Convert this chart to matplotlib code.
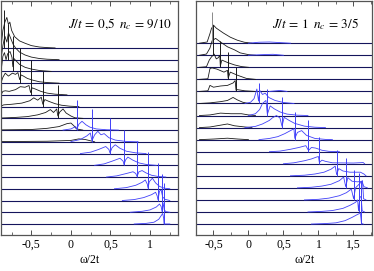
import numpy as np
import matplotlib.pyplot as plt

plt.rcParams['font.family'] = 'serif'
plt.rcParams['font.serif'] = ['Liberation Serif', 'DejaVu Serif']
plt.rcParams['mathtext.fontset'] = 'stix'

# ---- left panel: J/t = 0,5, n_c = 9/10 (curve k=0 on top) ----
left_spike_pos = [-0.848, -0.80, -0.734, -0.646, -0.506, -0.354, -0.165, 0.076,
                  0.266, 0.494, 0.671, 0.835, 0.975, 1.101, 1.152, 1.177]
left_spike_h = [3.2, 3.0, 3.0, 3.0, 3.0, 3.0, 2.8, 2.6,
                2.8, 3.0, 3.0, 3.1, 3.1, 3.2, 3.3, 3.5]

left_black = [
    [(-0.88, 0.3), (-0.86, 1.5), (-0.835, 2.2), (-0.81, 2.6), (-0.79, 2.0), (-0.772, 2.2), (-0.75, 1.5),
     (-0.71, 0.95), (-0.65, 0.6), (-0.58, 0.4), (-0.5, 0.2), (-0.4, 0.08), (-0.3, 0.03), (-0.2, 0.0)],
    [(-0.88, 0.2), (-0.86, 1.2), (-0.835, 2.0), (-0.81, 1.5), (-0.79, 2.3), (-0.76, 1.8), (-0.73, 1.3),
     (-0.70, 1.0), (-0.65, 0.65), (-0.58, 0.4), (-0.5, 0.22), (-0.4, 0.1), (-0.3, 0.04), (-0.15, 0.0)],
    [(-0.88, 0.2), (-0.86, 1.3), (-0.84, 1.6), (-0.82, 1.0), (-0.80, 1.5), (-0.77, 1.7), (-0.745, 1.2),
     (-0.734, 0.4), (-0.72, 1.1), (-0.70, 0.95), (-0.65, 0.6), (-0.58, 0.35), (-0.5, 0.2), (-0.4, 0.08),
     (-0.25, 0.0)],
    [(-0.88, 0.1), (-0.86, 0.5), (-0.83, 0.85), (-0.79, 0.6), (-0.74, 0.85), (-0.70, 0.75), (-0.67, 0.9),
     (-0.648, 0.3), (-0.63, 0.7), (-0.60, 0.6), (-0.55, 0.4), (-0.48, 0.25), (-0.40, 0.12), (-0.3, 0.05),
     (-0.15, 0.0)],
    [(-0.88, 0.05), (-0.86, 0.3), (-0.83, 0.35), (-0.78, 0.3), (-0.70, 0.45), (-0.64, 0.7), (-0.58, 0.65),
     (-0.53, 0.8), (-0.51, 0.2), (-0.49, 0.6), (-0.45, 0.5), (-0.38, 0.3), (-0.30, 0.15), (-0.2, 0.06),
     (-0.05, 0.0)],
    [(-0.88, 0.05), (-0.85, 0.15), (-0.75, 0.2), (-0.62, 0.3), (-0.52, 0.5), (-0.47, 0.75), (-0.42, 0.55),
     (-0.375, 0.8), (-0.355, 0.2), (-0.33, 0.6), (-0.28, 0.45), (-0.20, 0.25), (-0.12, 0.12), (-0.02, 0.04),
     (0.1, 0.0)],
    [(-0.88, 0.03), (-0.7, 0.08), (-0.55, 0.15), (-0.42, 0.3), (-0.32, 0.5), (-0.26, 0.75), (-0.22, 0.5),
     (-0.18, 0.8), (-0.165, 0.2), (-0.14, 0.55), (-0.10, 0.8), (-0.06, 0.45), (0.0, 0.2), (0.05, 0.05),
     (0.15, 0.0)],
    [(-0.88, 0.02), (-0.5, 0.05), (-0.3, 0.15), (-0.15, 0.3), (-0.05, 0.55), (0.0, 0.6), (0.04, 0.35),
     (0.07, 0.1), (0.15, 0.0)],
    [(-0.88, 0.02), (-0.3, 0.05), (0.0, 0.12), (0.1, 0.25), (0.18, 0.2), (0.3, 0.0)],
    [], [], [], [], [], [], [],
]

left_blue = [
    [], [], [], [], [], [], [],
    [(-0.1, 0.0), (0.0, 0.1), (0.06, 0.3), (0.076, 0.1), (0.10, 0.5), (0.14, 0.75), (0.19, 0.45),
     (0.24, 0.25), (0.32, 0.1), (0.45, 0.03), (0.6, 0.0)],
    [(0.0, 0.02), (0.12, 0.2), (0.2, 0.5), (0.245, 0.75), (0.266, 0.1), (0.30, 0.6), (0.34, 0.9),
     (0.38, 0.6), (0.42, 0.7), (0.48, 0.35), (0.56, 0.15), (0.7, 0.03), (0.85, 0.0)],
    [(0.12, 0.0), (0.25, 0.12), (0.35, 0.35), (0.44, 0.6), (0.48, 0.35), (0.494, 0.05), (0.52, 0.5),
     (0.56, 0.75), (0.62, 0.45), (0.70, 0.2), (0.82, 0.06), (0.95, 0.0)],
    [(0.3, 0.0), (0.42, 0.12), (0.52, 0.35), (0.62, 0.6), (0.66, 0.35), (0.671, 0.05), (0.69, 0.45),
     (0.72, 0.7), (0.78, 0.45), (0.86, 0.2), (0.96, 0.06), (1.08, 0.0)],
    [(0.45, 0.0), (0.58, 0.1), (0.70, 0.3), (0.785, 0.45), (0.82, 0.3), (0.835, 0.05), (0.86, 0.45),
     (0.90, 0.55), (0.95, 0.35), (1.02, 0.15), (1.1, 0.05), (1.2, 0.0)],
    [(0.55, 0.0), (0.70, 0.1), (0.82, 0.3), (0.90, 0.55), (0.94, 0.75), (0.965, 0.4), (0.975, 0.05),
     (0.99, 0.6), (1.03, 0.9), (1.07, 0.5), (1.12, 0.2), (1.18, 0.05), (1.25, 0.0)],
    [(0.65, 0.0), (0.80, 0.08), (0.92, 0.25), (1.02, 0.5), (1.07, 0.7), (1.09, 0.4), (1.101, 0.05),
     (1.12, 0.8), (1.14, 0.9), (1.16, 0.3), (1.19, 0.1), (1.25, 0.0)],
    [(0.75, 0.0), (0.90, 0.08), (1.0, 0.2), (1.08, 0.45), (1.12, 0.7), (1.14, 0.5), (1.152, 0.05),
     (1.165, 0.8), (1.18, 0.2), (1.2, 0.05), (1.25, 0.0)],
    [(0.8, 0.0), (0.95, 0.05), (1.05, 0.15), (1.11, 0.4), (1.145, 0.75), (1.16, 0.9), (1.172, 0.5),
     (1.177, 0.0), (1.25, 0.0)],
]

# ---- right panel: J/t = 1, n_c = 3/5 ----
right_spike_pos = [-0.528, -0.50, -0.402, -0.29, -0.178, 0.144, 0.27, 0.48,
                   0.662, 0.858, 1.013, 1.26, 1.39, 1.503, 1.573, 1.615]
right_spike_h = [2.6, 2.5, 2.2, 2.25, 2.0, 1.7, 2.2, 2.5,
                 2.3, 2.6, 2.2, 2.1, 2.5, 2.5, 3.2, 3.6]

right_black = [
    [(-0.70, 0.0), (-0.59, 0.1), (-0.55, 0.8), (-0.53, 1.2), (-0.50, 1.5), (-0.46, 1.25), (-0.36, 0.85),
     (-0.26, 0.5), (-0.16, 0.25), (-0.06, 0.08), (0.05, 0.0)],
    [(-0.70, 0.0), (-0.60, 0.1), (-0.55, 0.6), (-0.52, 1.2), (-0.47, 1.4), (-0.40, 1.1), (-0.30, 0.7),
     (-0.20, 0.45), (-0.12, 0.2), (0.0, 0.05), (0.1, 0.0)],
    [(-0.70, 0.0), (-0.60, 0.05), (-0.56, 0.6), (-0.53, 0.85), (-0.49, 1.1), (-0.46, 0.7), (-0.43, 0.8),
     (-0.41, 1.0), (-0.402, 0.1), (-0.38, 0.6), (-0.30, 0.4), (-0.2, 0.2), (-0.1, 0.06), (0.0, 0.0)],
    [(-0.70, 0.0), (-0.58, 0.05), (-0.55, 0.9), (-0.52, 0.95), (-0.45, 0.85), (-0.35, 0.6), (-0.30, 0.75),
     (-0.29, 0.1), (-0.26, 0.6), (-0.16, 0.35), (-0.03, 0.08), (0.1, 0.0)],
    [(-0.70, 0.0), (-0.58, 0.05), (-0.55, 0.5), (-0.50, 0.35), (-0.40, 0.45), (-0.30, 0.5), (-0.22, 0.7),
     (-0.19, 0.9), (-0.178, 0.1), (-0.16, 0.15), (-0.05, 0.05), (0.1, 0.0)],
    [(-0.70, 0.0), (-0.55, 0.05), (-0.40, 0.15), (-0.30, 0.25), (-0.22, 0.5), (-0.16, 0.3), (-0.08, 0.1),
     (0.0, 0.0)],
    [(-0.70, 0.0), (-0.55, 0.05), (-0.40, 0.2), (-0.25, 0.15), (-0.10, 0.15), (0.0, 0.05), (0.1, 0.0)],
    [(-0.70, 0.0), (-0.55, 0.05), (-0.40, 0.2), (-0.30, 0.3), (-0.20, 0.15), (-0.05, 0.05), (0.05, 0.0)],
    [(-0.70, 0.0), (-0.5, 0.05), (-0.3, 0.12), (-0.15, 0.05), (0.0, 0.0)],
    [], [], [], [], [], [], [],
]

right_blue = [
    [(0.0, 0.0), (0.15, 0.08), (0.3, 0.1), (0.45, 0.05), (0.6, 0.0)],
    [(0.0, 0.0), (0.2, 0.05), (0.35, 0.08), (0.5, 0.0)],
    [], [],
    [(0.3, 0.0), (0.45, 0.08), (0.55, 0.0)],
    [(-0.05, 0.0), (0.03, 0.1), (0.08, 0.4), (0.12, 1.2), (0.144, 0.2), (0.16, 1.1), (0.20, 0.75),
     (0.24, 0.85), (0.29, 0.5), (0.38, 0.25), (0.5, 0.08), (0.65, 0.0)],
    [(0.0, 0.0), (0.10, 0.15), (0.16, 0.5), (0.20, 1.0), (0.25, 1.25), (0.27, 0.1), (0.31, 0.8),
     (0.37, 0.55), (0.45, 0.3), (0.55, 0.12), (0.7, 0.03), (0.85, 0.0)],
    [(-0.05, 0.0), (0.10, 0.1), (0.20, 0.3), (0.30, 0.6), (0.34, 0.8), (0.40, 1.0), (0.45, 0.8),
     (0.48, 0.1), (0.51, 0.85), (0.58, 0.6), (0.66, 0.35), (0.80, 0.12), (0.95, 0.03), (1.1, 0.0)],
    [(0.15, 0.0), (0.30, 0.1), (0.42, 0.25), (0.52, 0.5), (0.60, 0.75), (0.65, 0.9), (0.662, 0.1),
     (0.70, 0.6), (0.76, 0.75), (0.83, 0.35), (0.95, 0.1), (1.1, 0.02), (1.2, 0.0)],
    [(0.3, 0.0), (0.45, 0.05), (0.6, 0.2), (0.72, 0.35), (0.82, 0.5), (0.858, 0.1), (0.90, 0.35),
     (0.96, 0.3), (1.05, 0.12), (1.15, 0.03), (1.3, 0.0)],
    [(0.5, 0.0), (0.65, 0.08), (0.80, 0.25), (0.90, 0.4), (0.97, 0.55), (1.00, 0.6), (1.013, 0.1),
     (1.05, 0.3), (1.10, 0.2), (1.2, 0.08), (1.5, 0.06), (1.64, 0.1), (1.66, 0.0)],
    [(0.6, 0.0), (0.8, 0.05), (0.95, 0.15), (1.08, 0.3), (1.18, 0.55), (1.24, 0.8), (1.26, 0.1),
     (1.29, 0.6), (1.35, 0.4), (1.45, 0.3), (1.6, 0.3), (1.65, 0.15), (1.68, 0.0)],
    [(0.7, 0.0), (0.9, 0.05), (1.05, 0.15), (1.18, 0.3), (1.30, 0.6), (1.36, 0.9), (1.39, 0.1),
     (1.42, 0.85), (1.48, 0.55), (1.56, 0.5), (1.62, 0.55), (1.65, 0.1), (1.7, 0.0)],
    [(0.8, 0.0), (1.0, 0.05), (1.15, 0.15), (1.30, 0.35), (1.40, 0.6), (1.47, 0.9), (1.503, 0.1),
     (1.53, 1.0), (1.58, 1.3), (1.63, 1.6), (1.645, 0.1), (1.68, 0.0)],
    [(0.85, 0.0), (1.05, 0.05), (1.2, 0.12), (1.35, 0.3), (1.45, 0.55), (1.53, 0.8), (1.56, 1.0),
     (1.573, 0.1), (1.59, 1.2), (1.61, 1.3), (1.625, 0.1), (1.66, 0.0)],
    [(0.9, 0.0), (1.1, 0.04), (1.25, 0.1), (1.38, 0.28), (1.48, 0.55), (1.56, 0.8), (1.60, 0.9),
     (1.615, 0.05), (1.64, 0.0)],
]

left_ticks = [-0.5, 0, 0.5, 1]
left_ticklabels = ['-0,5', '0', '0,5', '1']
right_ticks = [-0.5, 0, 0.5, 1, 1.5]
right_ticklabels = ['-0,5', '0', '0,5', '1', '1,5']
left_title = r'$J/t\,=\,0{,}5\;\;n_c\,=\,9/10$'
right_title = r'$J/t\,=\,1\;\;n_c\,=\,3/5$'

BLUE = '#4040f8'
BLACK = '#1a1a1a'
NAVY = '#15155c'

fig = plt.figure(figsize=(3.74, 2.71), dpi=100)
axL = fig.add_axes([0.0035, 0.1328, 0.4717, 0.8635])
axR = fig.add_axes([0.524, 0.1328, 0.4715, 0.8635])


def draw_panel(ax, spos, sh, blacks, blues, n_black_spikes, first_gray):
    n = len(spos)
    for k in range(n):
        off = n - 1 - k
        ax.axhline(off, color=NAVY, lw=0.8, zorder=1)
        if blacks[k]:
            w, h = zip(*blacks[k])
            ax.plot(w, off + np.array(h), color=BLACK, lw=0.6, zorder=2)
        if blues[k]:
            w, h = zip(*blues[k])
            ax.plot(w, off + np.array(h), color=BLUE, lw=0.6, zorder=3)
        if k < n_black_spikes:
            c = '#8a8a8a' if (first_gray and k == 0) else BLACK
        else:
            c = BLUE
        ax.vlines(spos[k], off, off + sh[k], color=c, lw=0.7, zorder=4)


draw_panel(axL, left_spike_pos, left_spike_h, left_black, left_blue, 7, False)
draw_panel(axR, right_spike_pos, right_spike_h, right_black, right_blue, 5, True)

axL.set_xlim(-0.88, 1.35)
axL.set_ylim(-0.94, 19.0)
axR.set_xlim(-0.696, 1.77)
axR.set_ylim(-0.91, 18.5)

for ax, ticks, labels in [(axL, left_ticks, left_ticklabels), (axR, right_ticks, right_ticklabels)]:
    ax.set_xticks(ticks)
    ax.set_xticklabels(labels, fontsize=8.5)
    ax.set_xticks(np.arange(-0.75, ax.get_xlim()[1], 0.25), minor=True)
    ax.set_yticks([])
    ax.tick_params(axis='x', which='major', direction='in', length=3.5, width=0.6,
                   top=True, pad=3, colors='#333333')
    ax.tick_params(axis='x', which='minor', direction='in', length=2, width=0.5,
                   top=True, colors='#333333')
    ax.tick_params(axis='x', labelcolor='black')
    for s in ax.spines.values():
        s.set_color('#555555')
        s.set_linewidth(0.9)

axL.text(0.378, 0.885, left_title, transform=axL.transAxes, fontsize=9.5,
         ha='left', va='baseline')
axR.text(0.431, 0.885, right_title, transform=axR.transAxes, fontsize=9.5,
         ha='left', va='baseline')

fig.text(90 / 374, 1 - 260 / 271, 'ω/2t', fontsize=8.5, ha='center', va='center')
fig.text(305 / 374, 1 - 260 / 271, 'ω/2t', fontsize=8.5, ha='center', va='center')

fig.savefig('out.png', dpi=100)
